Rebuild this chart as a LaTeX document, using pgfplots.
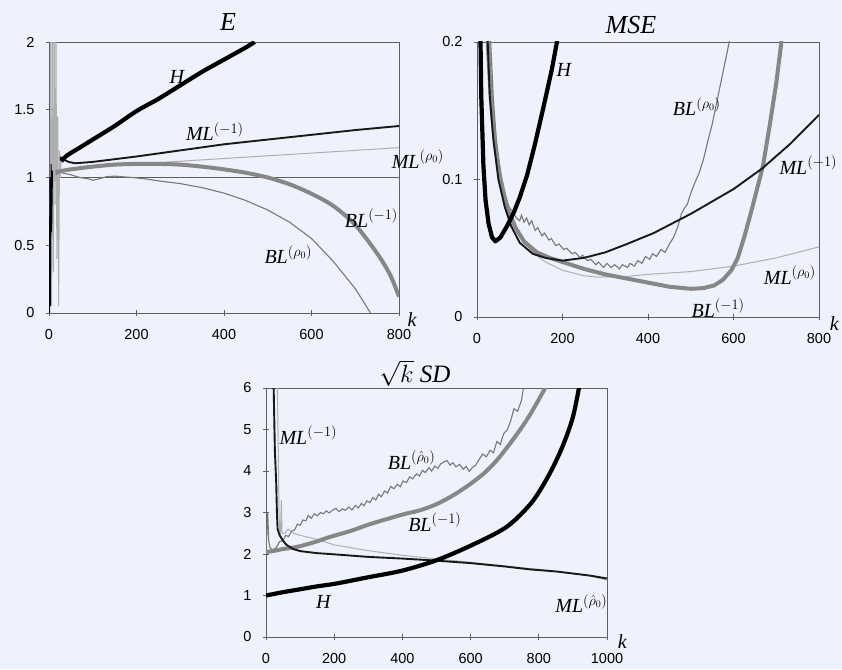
\documentclass[border=0pt]{standalone}
\usepackage{fontspec}
\setmainfont{Liberation Serif}
\setsansfont{Liberation Sans}
\usepackage{pgfplots}
\pgfplotsset{compat=1.18}

\definecolor{bgcol}{RGB}{238,242,252}
\definecolor{axcol}{RGB}{95,95,95}
\definecolor{thickgray}{RGB}{135,135,135}
\definecolor{midgray}{RGB}{120,120,120}
\definecolor{lightgray}{RGB}{175,175,175}

\tikzset{
  lbl/.style={font=\fontsize{20}{22}\selectfont\itshape},
  Hs/.style={black, line width=4.2pt, line join=round},
  MLm/.style={black!90, line width=1.9pt},
  MLr/.style={lightgray, line width=1.0pt},
  BLm/.style={thickgray, line width=4.0pt, line join=round},
  BLr/.style={midgray, line width=1.1pt},
}
\pgfplotsset{
  panel/.style={
    scale only axis,
    anchor=south west,
    clip mode=individual,
    axis line style={axcol, line width=0.9pt},
    tick style={axcol, line width=0.8pt},
    tick align=center,
    major tick length=6pt,
    xtick pos=left, ytick pos=left,
    tick label style={font=\fontsize{14.5}{16}\selectfont\sffamily},
    /pgf/number format/assume math mode=true,
    xticklabel shift=10pt,
    yticklabel shift=8pt,
  },
}

\begin{document}
\begin{tikzpicture}[x=1pt,y=1pt]
\fill[bgcol] (0,0) rectangle (842,669);
\useasboundingbox (0,0) rectangle (842,669);
\coordinate (pA) at (49,356);
\coordinate (pB) at (477,352);
\coordinate (pC) at (266,32);

% titles
\node[font=\fontsize{26}{28}\selectfont\itshape] at (228,647) {E};
\node[font=\fontsize{26}{28}\selectfont\itshape] at (631,644) {MSE};
\node[font=\fontsize{25}{28}\selectfont] at (415,296) {$\sqrt{k}$ \textit{SD}};

% ---------- E ----------
\begin{axis}[panel, at={(pA)}, width=350pt, height=271pt,
  xmin=0, xmax=800, ymin=0, ymax=2,
  xtick={0,200,400,600,800}, xticklabels={0,200,400,600,800},
  ytick={0,0.5,1,1.5,2}, yticklabels={0,0.5,1,1.5,2}]
\addplot[axcol, line width=0.8pt] coordinates {(0,1) (800,1)};
\addplot[lightgray, line width=1pt] coordinates {
  (2,0) (4,2) (6,0.05) (8,2) (10,0.3) (12,2) (14,0.8) (16,2) (18,0.4) (20,1.45)
  (22,0.05) (24,1.2) (26,1.0) (28,1.15)};
\addplot[black, line width=1pt] coordinates {
  (1,0) (2,1.0) (3,0.05) (5,1.1) (6,0.6) (8,1.05)};
\addplot[MLr] coordinates {
  (20,1.04) (50,1.06) (100,1.08) (200,1.10) (300,1.12) (400,1.14) (500,1.16)
  (600,1.18) (700,1.20) (800,1.22)};
\addplot[BLr] coordinates {
  (15,1.02) (25,1.04) (35,1.03) (50,1.02) (70,1.0) (90,0.99) (100,0.98) (115,0.99)
  (130,1.005) (150,1.01) (170,1.005) (190,1.0) (220,0.99) (250,0.975) (300,0.955)
  (350,0.925) (400,0.885) (450,0.83) (500,0.76) (550,0.67) (600,0.55) (650,0.38)
  (700,0.18) (735,0)};
\addplot[BLm, smooth] coordinates {
  (15,1.04) (50,1.06) (100,1.08) (150,1.095) (200,1.10) (250,1.10) (300,1.095)
  (350,1.08) (400,1.06) (450,1.035) (500,1.0) (550,0.95) (600,0.88) (650,0.79)
  (700,0.65) (750,0.44) (780,0.28) (800,0.12)};
\addplot[MLm] coordinates {
  (25,1.15) (35,1.13) (45,1.115) (60,1.105) (100,1.115) (200,1.155) (300,1.20)
  (400,1.245) (500,1.28) (600,1.315) (700,1.35) (800,1.38)};
\addplot[Hs, smooth] coordinates {
  (28,1.12) (40,1.16) (70,1.22) (100,1.28) (150,1.38) (200,1.49) (250,1.58)
  (300,1.68) (350,1.78) (400,1.87) (450,1.96) (470,2.0)};
\node[lbl] at (axis cs:292,1.744) {H};
\node[lbl] at (axis cs:379,1.34) {ML$^{(-1)}$};
\node[lbl] at (axis cs:843,1.137) {ML$^{(\rho_0)}$};
\node[lbl] at (axis cs:737,0.70) {BL$^{(-1)}$};
\node[lbl] at (axis cs:547,0.43) {BL$^{(\rho_0)}$};
\node[lbl] at (axis cs:830,-0.052) {k};
\end{axis}

% ---------- MSE ----------
\begin{axis}[panel, at={(pB)}, width=342pt, height=275pt,
  xmin=0, xmax=800, ymin=0, ymax=0.2,
  xtick={0,200,400,600,800}, xticklabels={0,200,400,600,800},
  ytick={0,0.1,0.2}, yticklabels={0,0.1,0.2}]
\addplot[MLr] coordinates {
  (25,0.25) (30,0.2) (38,0.15) (50,0.11) (65,0.085) (80,0.07) (100,0.058)
  (130,0.047) (160,0.04) (200,0.034) (250,0.03) (280,0.029) (350,0.0295)
  (400,0.031) (500,0.033) (600,0.037) (700,0.043) (800,0.051)};
\addplot[BLr] coordinates {
  (28,0.25) (32,0.2) (38,0.16) (45,0.13) (55,0.105) (65,0.09) (75,0.08) (85,0.076)
  (92,0.072) (100,0.07) (104,0.074) (110,0.069) (116,0.072) (122,0.067)
  (128,0.07) (136,0.063) (142,0.065) (152,0.059) (158,0.061) (168,0.056)
  (174,0.057) (184,0.052) (192,0.053) (203,0.049) (210,0.050) (222,0.046)
  (230,0.047) (241,0.043) (247,0.045) (258,0.041) (266,0.042) (278,0.038)
  (284,0.040) (296,0.036) (304,0.039) (314,0.036) (322,0.038) (333,0.035)
  (340,0.038) (352,0.036) (358,0.039) (368,0.037) (376,0.041) (386,0.039)
  (394,0.044) (404,0.042) (411,0.046) (420,0.044) (430,0.049) (440,0.047)
  (450,0.053) (460,0.058) (470,0.066) (478,0.075) (485,0.079) (492,0.082)
  (500,0.09) (510,0.098) (520,0.105) (530,0.115) (540,0.128) (550,0.14)
  (560,0.155) (570,0.17) (580,0.185) (590,0.2) (595,0.21)};
\addplot[BLm] coordinates {
  (18,0.25) (25,0.2) (32,0.16) (42,0.125) (55,0.1) (70,0.08) (90,0.065)
  (110,0.055) (140,0.047) (170,0.043) (200,0.04) (250,0.035) (300,0.031)
  (350,0.028) (400,0.025) (450,0.022) (500,0.0205) (530,0.021) (555,0.023)
  (575,0.027) (595,0.034) (610,0.043) (625,0.058) (640,0.075) (655,0.093)
  (669,0.11) (685,0.14) (700,0.17) (712,0.2) (718,0.22)};
\addplot[MLm] coordinates {
  (20,0.25) (25,0.2) (30,0.16) (38,0.13) (50,0.10) (65,0.08) (80,0.066)
  (100,0.054) (130,0.046) (160,0.043) (200,0.041) (250,0.043) (300,0.047)
  (350,0.053) (413,0.061) (500,0.075) (600,0.093) (667,0.108) (733,0.126)
  (800,0.147)};
\addplot[Hs] coordinates {
  (6,0.25) (10,0.16) (15,0.11) (20,0.085) (27,0.068) (35,0.058) (43,0.055)
  (55,0.058) (70,0.066) (86,0.076) (100,0.087) (117,0.103) (135,0.125)
  (155,0.152) (175,0.18) (190,0.205)};
\node[lbl] at (axis cs:203,0.1796) {H};
\node[lbl] at (axis cs:514,0.153) {BL$^{(\rho_0)}$};
\node[lbl] at (axis cs:775,0.1105) {ML$^{(-1)}$};
\node[lbl] at (axis cs:732,0.0305) {ML$^{(\rho_0)}$};
\node[lbl] at (axis cs:564,0.0063) {BL$^{(-1)}$};
\node[lbl] at (axis cs:836,-0.0045) {k};
\end{axis}

% ---------- sqrt(k) SD ----------
\begin{axis}[panel, at={(pC)}, width=341pt, height=249pt,
  xmin=0, xmax=1000, ymin=0, ymax=6,
  xtick={0,200,400,600,800,1000}, xticklabels={0,200,400,600,800,1000},
  ytick={0,1,2,3,4,5,6}, yticklabels={0,1,2,3,4,5,6}]
\addplot[MLr] coordinates {
  (33,6.2) (36,4.5) (38,3.0) (40,2.6) (42,2.4) (45,3.3) (47,2.5) (55,2.5)
  (65,2.6) (80,2.5) (100,2.45) (150,2.35) (200,2.22) (300,2.08) (400,1.97)
  (500,1.88) (600,1.8) (700,1.71) (800,1.63) (900,1.53) (950,1.47) (1000,1.37)};
\addplot[BLr] coordinates {
  (0,2.1) (5,3.0) (8,2.3) (12,2.15) (20,2.1) (30,2.15) (40,2.3) (50,2.33)
  (58,2.45) (66,2.42) (75,2.55) (84,2.58) (92,2.72) (100,2.69) (108,2.82)
  (117,2.8) (124,2.93) (133,2.86) (142,2.97) (150,2.92) (160,3.0) (168,2.97)
  (177,3.04) (185,2.99) (196,3.06) (205,3.1) (214,3.02) (224,3.09) (232,3.05)
  (243,3.13) (252,3.06) (262,3.17) (271,3.11) (280,3.22) (287,3.16)
  (296,3.28) (305,3.24) (313,3.36) (322,3.3) (330,3.44) (338,3.38) (348,3.52)
  (356,3.47) (366,3.63) (375,3.57) (385,3.68) (394,3.62) (402,3.76)
  (412,3.72) (421,3.86) (430,3.81) (441,3.93) (450,3.88) (459,4.02)
  (467,3.96) (478,4.08) (486,4.0) (495,4.12) (504,4.06) (512,4.17)
  (522,4.22) (531,4.25) (540,4.14) (548,4.2) (557,4.1) (568,4.16) (578,4.04)
  (587,4.11) (596,3.99) (606,4.09) (615,4.14) (625,4.28) (636,4.41)
  (646,4.34) (657,4.5) (667,4.44) (677,4.71) (687,4.64) (697,4.9)
  (708,5.0) (718,5.22) (727,5.5) (738,5.44) (749,5.7) (756,6.05)};
\addplot[BLm, smooth] coordinates {
  (0,2.05) (20,2.07) (50,2.12) (90,2.17) (140,2.28) (187,2.41) (250,2.56)
  (305,2.72) (400,2.95) (450,3.05) (500,3.2) (550,3.42) (598,3.68) (640,3.95)
  (676,4.25) (710,4.6) (744,4.98) (770,5.3) (795,5.65) (822,6.05)};
\addplot[MLm] coordinates {
  (22,6.2) (26,4.5) (30,3.7) (32,3.0) (34,2.6) (40,2.45) (50,2.32) (60,2.22)
  (80,2.12) (100,2.07) (150,2.02) (187,2.0) (300,1.93) (400,1.89) (500,1.84)
  (600,1.78) (700,1.7) (773,1.63) (850,1.58) (900,1.53) (950,1.48) (1000,1.41)};
\addplot[Hs, smooth] coordinates {
  (0,1.0) (50,1.08) (100,1.15) (150,1.22) (207,1.29) (300,1.44) (400,1.6)
  (500,1.85) (600,2.2) (705,2.65) (780,3.25) (832,3.94) (870,4.6) (900,5.3)
  (920,6.1)};
\node[lbl] at (axis cs:124,4.86) {ML$^{(-1)}$};
\node[lbl] at (axis cs:427,4.26) {BL$^{(\hat\rho_0)}$};
\node[lbl] at (axis cs:495,2.77) {BL$^{(-1)}$};
\node[lbl] at (axis cs:168,0.84) {H};
\node[lbl] at (axis cs:925,0.80) {ML$^{(\hat\rho_0)}$};
\node[lbl] at (axis cs:1045,-0.12) {k};
\end{axis}
\end{tikzpicture}
\end{document}
